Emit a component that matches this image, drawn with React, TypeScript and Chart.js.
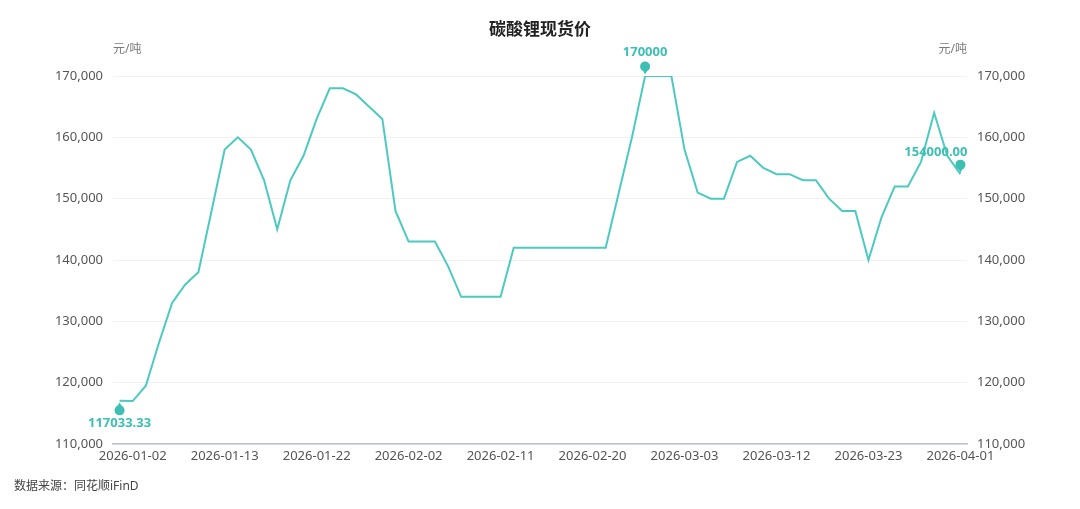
import { useEffect, useRef } from "react";
import { Chart, registerables } from "chart.js";

Chart.register(...registerables);

const dates = [
  "2026-01-01", "2026-01-02", "2026-01-05", "2026-01-06", "2026-01-07", "2026-01-08", "2026-01-09",
  "2026-01-12", "2026-01-13", "2026-01-14", "2026-01-15", "2026-01-16", "2026-01-19", "2026-01-20",
  "2026-01-21", "2026-01-22", "2026-01-23", "2026-01-26", "2026-01-27", "2026-01-28", "2026-01-29",
  "2026-01-30", "2026-02-02", "2026-02-03", "2026-02-04", "2026-02-05", "2026-02-06", "2026-02-09",
  "2026-02-10", "2026-02-11", "2026-02-12", "2026-02-13", "2026-02-16", "2026-02-17", "2026-02-18",
  "2026-02-19", "2026-02-20", "2026-02-23", "2026-02-24", "2026-02-25", "2026-02-26", "2026-02-27",
  "2026-03-02", "2026-03-03", "2026-03-04", "2026-03-05", "2026-03-06", "2026-03-09", "2026-03-10",
  "2026-03-11", "2026-03-12", "2026-03-13", "2026-03-16", "2026-03-17", "2026-03-18", "2026-03-19",
  "2026-03-20", "2026-03-23", "2026-03-24", "2026-03-25", "2026-03-26", "2026-03-27", "2026-03-30",
  "2026-03-31", "2026-04-01",
];

// 元/吨
const spotPrice = [
  117033.33, 117000, 119500, 126500, 133000, 136000, 138000,
  148000, 158000, 160000, 158000, 153000, 145000, 153000,
  157000, 163000, 168000, 168000, 167000, 165000, 163000,
  148000, 143000, 143000, 143000, 139000, 134000, 134000,
  134000, 134000, 142000, 142000, 142000, 142000, 142000,
  142000, 142000, 142000, 151000, 160000, 170000, 170000,
  170000, 158000, 151000, 150000, 150000, 156000, 157000,
  155000, 154000, 154000, 153000, 153000, 150000, 148000,
  148000, 140000, 147000, 152000, 152000, 156000, 164000,
  157000, 154000,
];

// which points get a pin, and the text shown next to it
const pinIndex = [0, 40, 64];
const pinText = ["117033.33", "170000", "154000.00"];

const yMin = 110000;
const yMax = 170000;
const yStep = 10000;

const FONT = "'Noto Sans', 'Noto Sans CJK SC', sans-serif";
const TEAL = "#4dcac0";
const PIN = "#3dbfb3";

const overlay = {
  id: "overlay",
  afterDraw(chart: Chart) {
    const ctx = chart.ctx;
    const area = chart.chartArea;
    ctx.save();

    // title
    ctx.fillStyle = "#222";
    ctx.font = `bold 17px ${FONT}`;
    ctx.textAlign = "center";
    ctx.textBaseline = "middle";
    ctx.fillText("碳酸锂现货价", 540, 30);

    // units
    ctx.fillStyle = "#7a7a7a";
    ctx.font = `12px ${FONT}`;
    ctx.textAlign = "left";
    ctx.fillText("元/吨", area.left, 50);
    ctx.textAlign = "right";
    ctx.fillText("元/吨", area.right, 50);

    // source
    ctx.fillStyle = "#444";
    ctx.textAlign = "left";
    ctx.fillText("数据来源：同花顺iFinD", 14, 487);

    // pins
    const meta = chart.getDatasetMeta(0);
    pinIndex.forEach((idx, k) => {
      const pt = meta.data[idx];
      if (!pt) return;
      const x = pt.x;
      const y = pt.y;
      const below = k === 0;
      const dir = below ? 1 : -1;
      const r = 5;
      const cy = y + dir * 9.5;
      const ty = y + dir * 1.5;
      ctx.fillStyle = PIN;
      ctx.beginPath();
      ctx.arc(x, cy, r, 0, Math.PI * 2);
      ctx.fill();
      ctx.beginPath();
      ctx.moveTo(x - r * 0.85, cy - dir * r * 0.5 + dir * 2.5);
      ctx.lineTo(x + r * 0.85, cy - dir * r * 0.5 + dir * 2.5);
      ctx.lineTo(x, ty);
      ctx.closePath();
      ctx.fill();

      ctx.font = `bold 13px ${FONT}`;
      ctx.textBaseline = "middle";
      if (k === 0) {
        ctx.textAlign = "center";
        ctx.fillText(pinText[k], x, y + 22);
      } else if (k === 1) {
        ctx.textAlign = "center";
        ctx.fillText(pinText[k], x, y - 24);
      } else {
        ctx.textAlign = "right";
        ctx.fillText(pinText[k], x + 7, y - 22);
      }
    });

    ctx.restore();
  },
};

export default function App() {
  const chartRef = useRef<HTMLCanvasElement>(null);
  const chartInstanceRef = useRef<Chart | null>(null);

  useEffect(() => {
    if (!chartRef.current) return;
    if (chartInstanceRef.current) {
      chartInstanceRef.current.destroy();
    }
    const ctx = chartRef.current.getContext("2d");
    if (!ctx) return;

    const tickFont = { family: FONT, size: 13 };

    chartInstanceRef.current = new Chart(ctx, {
      type: "line",
      data: {
        labels: dates,
        datasets: [{
          label: "碳酸锂现货价",
          data: spotPrice,
          borderColor: TEAL,
          backgroundColor: TEAL,
          borderWidth: 2,
          pointRadius: 0,
          tension: 0,
          yAxisID: "y",
        }],
      },
      options: {
        animation: false,
        responsive: true,
        maintainAspectRatio: false,
        layout: { padding: { top: 76, left: 0, right: 0, bottom: 0 } },
        plugins: {
          legend: { display: false },
          tooltip: { enabled: false },
        },
        scales: {
          x: {
            type: "category",
            offset: true,
            grid: { display: false, drawTicks: false },
            border: { display: true, color: "#bcc0d8", width: 1.5 },
            ticks: {
              autoSkip: false,
              maxRotation: 0,
              minRotation: 0,
              padding: 4,
              color: "#555",
              font: tickFont,
              callback: (_v, i) => (i % 7 === 1 ? dates[i] : ""),
            },
            afterFit: (scale) => {
              scale.height = 65;
            },
          },
          y: {
            position: "left",
            min: yMin,
            max: yMax,
            grid: { color: "#f1f1f1", drawTicks: false },
            border: { display: false },
            ticks: {
              stepSize: yStep,
              padding: 10,
              color: "#555",
              font: tickFont,
              callback: (v) => Number(v).toLocaleString("en-US"),
            },
            afterFit: (scale) => {
              scale.width = 113;
            },
          },
          y2: {
            position: "right",
            min: yMin,
            max: yMax,
            grid: { display: false, drawTicks: false },
            border: { display: false },
            ticks: {
              stepSize: yStep,
              padding: 10,
              color: "#555",
              font: tickFont,
              callback: (v) => Number(v).toLocaleString("en-US"),
            },
            afterFit: (scale) => {
              scale.width = 113;
            },
          },
        },
      },
      plugins: [overlay],
    });

    return () => {
      if (chartInstanceRef.current) {
        chartInstanceRef.current.destroy();
        chartInstanceRef.current = null;
      }
    };
  }, []);

  return (
    <div style={{ position: "absolute", left: 0, top: 0, width: 1080, height: 509, background: "#fff" }}>
      <canvas ref={chartRef}></canvas>
    </div>
  );
}
